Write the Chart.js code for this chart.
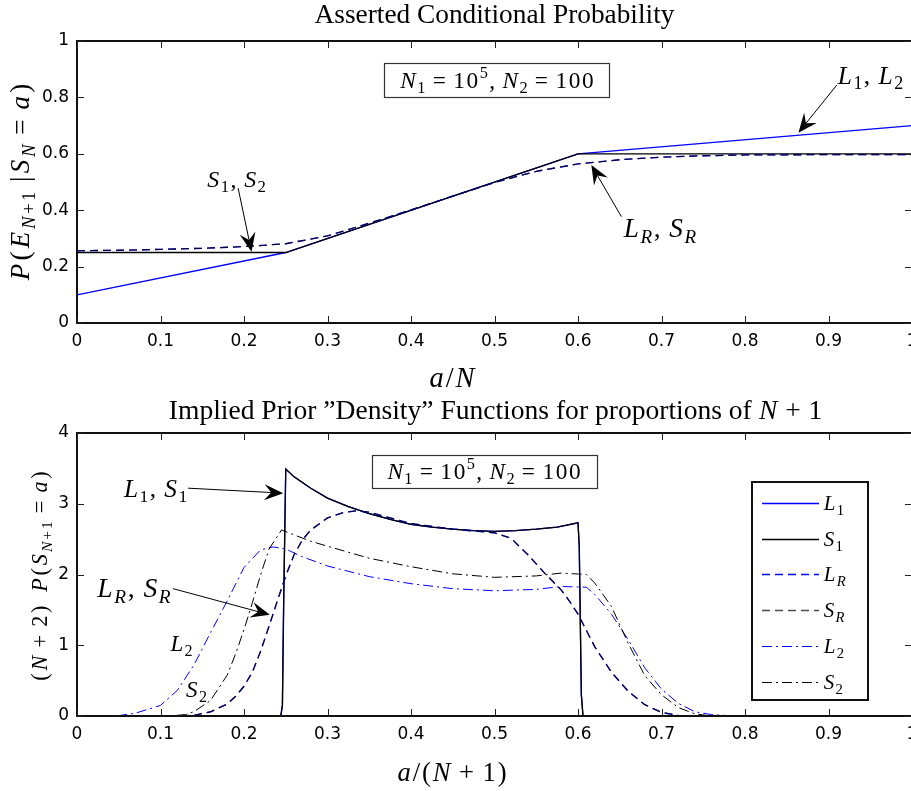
<!DOCTYPE html>
<html><head><meta charset="utf-8">
<script src="https://cdn.jsdelivr.net/npm/chart.js@4.4.1/dist/chart.umd.min.js"></script>
<style>
html,body{margin:0;padding:0;background:#fff;overflow:hidden;width:911px;height:791px}
#wrap{position:relative;width:911px;height:791px;overflow:hidden;background:#fff}
canvas{position:absolute;left:0}
</style></head><body>
<div id="wrap">
<canvas id="c1" width="930" height="395" style="top:0"></canvas>
<canvas id="c2" width="930" height="396" style="top:395px"></canvas>
</div>
<script>
// ---------- tick labels ----------
const xTickLabels = ['0','0.1','0.2','0.3','0.4','0.5','0.6','0.7','0.8','0.9','1'];
const topYTickLabels = ['0','0.2','0.4','0.6','0.8','1'];
const botYTickLabels = ['0','1','2','3','4'];

// ---------- top panel: asserted conditional probability ----------
const topX_L = [0, 0.25, 0.6, 1];
const topL = [0.1, 0.25, 0.6, 0.7];            // L1, L2
const topX_S = [0, 0.25, 0.6, 1];
const topS = [0.25, 0.25, 0.6, 0.6];           // S1, S2
const topX_R = [0, 0.05, 0.1, 0.15, 0.2, 0.25, 0.3, 0.35, 0.4, 0.45, 0.5, 0.55, 0.6, 0.65, 0.7, 0.75, 0.8, 0.9, 1];
const topR = [0.256, 0.258, 0.261, 0.265, 0.271, 0.281, 0.309, 0.354, 0.401, 0.45, 0.498, 0.538, 0.564, 0.579, 0.588, 0.593, 0.596, 0.597, 0.597]; // LR, SR

// ---------- bottom panel: implied prior densities ----------
const densX1 = [0, 0.244, 0.246, 0.2475, 0.25, 0.26, 0.28, 0.3, 0.325, 0.35, 0.375, 0.4, 0.425, 0.45, 0.475, 0.5, 0.525, 0.55, 0.575, 0.6, 0.6015, 0.604, 0.606, 1];
const dens1 = [0, 0, 0.15, 1.6, 3.49, 3.38, 3.22, 3.08, 2.96, 2.86, 2.78, 2.71, 2.67, 2.64, 2.62, 2.61, 2.62, 2.64, 2.67, 2.73, 2.4, 0.3, 0, 0]; // L1, S1
const densXR = [0, 0.12, 0.14, 0.16, 0.18, 0.19, 0.2, 0.21, 0.22, 0.23, 0.24, 0.25, 0.26, 0.27, 0.28, 0.3, 0.32, 0.335, 0.35, 0.375, 0.4, 0.45, 0.5, 0.52, 0.54, 0.56, 0.58, 0.59, 0.6, 0.62, 0.64, 0.66, 0.68, 0.7, 0.72, 0.74, 1];
const densR = [0, 0, 0.01, 0.06, 0.17, 0.28, 0.42, 0.62, 0.92, 1.27, 1.63, 1.98, 2.28, 2.49, 2.63, 2.80, 2.88, 2.90, 2.88, 2.80, 2.72, 2.64, 2.59, 2.51, 2.28, 2.02, 1.78, 1.62, 1.44, 0.98, 0.62, 0.35, 0.16, 0.05, 0.01, 0, 0]; // LR, SR
const densX2L = [0, 0.05, 0.07, 0.1, 0.12, 0.14, 0.16, 0.18, 0.2, 0.22, 0.235, 0.25, 0.27, 0.3, 0.35, 0.4, 0.45, 0.5, 0.55, 0.58, 0.61, 0.62, 0.64, 0.66, 0.68, 0.7, 0.72, 0.74, 0.76, 0.78, 0.8, 1];
const densL2 = [0, 0.005, 0.04, 0.15, 0.36, 0.72, 1.18, 1.63, 2.10, 2.35, 2.39, 2.36, 2.25, 2.12, 1.97, 1.87, 1.80, 1.77, 1.79, 1.83, 1.82, 1.72, 1.44, 1.08, 0.68, 0.38, 0.18, 0.06, 0.02, 0.005, 0, 0];
const densX2S = [0, 0.11, 0.13, 0.14, 0.16, 0.18, 0.19, 0.2, 0.21, 0.22, 0.23, 0.245, 0.26, 0.28, 0.3, 0.35, 0.4, 0.45, 0.5, 0.55, 0.58, 0.61, 0.62, 0.64, 0.66, 0.68, 0.7, 0.72, 0.74, 0.76, 1];
const densS2 = [0, 0, 0.02, 0.06, 0.22, 0.58, 0.88, 1.22, 1.60, 2.00, 2.36, 2.63, 2.56, 2.47, 2.40, 2.23, 2.11, 2.01, 1.96, 1.98, 2.02, 2.00, 1.88, 1.55, 1.03, 0.57, 0.30, 0.12, 0.03, 0, 0];

const BLUE = '#0000ff';
const DASH = [8, 5];
const DASHDOT = [10, 4, 2, 4];

function zip(xs, ys){ return xs.map((x, i) => ({x: x, y: ys[i]})); }

// ---------- tiny TeX-like text renderer ----------
const SERIF = '"Liberation Serif", "Times New Roman", serif';
function parseTex(str, lvl, roman){
  lvl = lvl || 0; const out = []; let i = 0;
  const grp = () => {
    if (str[i] === '{'){ let d = 1, j = i + 1; while (j < str.length && d){ if (str[j] === '{') d++; else if (str[j] === '}') d--; j++; } const g = str.slice(i + 1, j - 1); i = j; return g; }
    return str[i++];
  };
  while (i < str.length){
    const c = str[i];
    if (c === '_' || c === '^'){ i++; const g = grp(); out.push(...parseTex(g, c === '_' ? -1 : 1, roman)); }
    else if (str.startsWith('\\rm', i)){ i += 3; const g = grp(); out.push(...parseTex(g, lvl, true)); }
    else { i++; out.push({t: c, it: !roman && /[A-Za-z]/.test(c), lvl: lvl, math: !roman}); }
  }
  return out;
}
function texLayout(ctx, segs, size, track){
  let x = 0; const items = [];
  for (const s of segs){
    const fs = s.lvl ? size * 0.7 : size;
    const font = (s.it ? 'italic ' : '') + fs.toFixed(2) + 'px ' + SERIF;
    ctx.font = font;
    const extra = (s.math && s.t !== ' ') ? track * fs : 0;
    const w = ctx.measureText(s.t).width;
    items.push({t: s.t, font: font, x: x + extra / 2, dy: s.lvl < 0 ? size * 0.22 : (s.lvl > 0 ? -size * 0.42 : 0)});
    x += w + extra;
  }
  return {items: items, width: x};
}
function drawTex(ctx, str, x, y, o){
  o = o || {};
  const segs = parseTex(str);
  const track = o.track == null ? 0.07 : o.track;
  let size = o.size || 20;
  if (o.width){ const l = texLayout(ctx, segs, 100, track); size = 100 * o.width / l.width; }
  const L = texLayout(ctx, segs, size, track);
  ctx.save();
  ctx.translate(x, y);
  if (o.rot) ctx.rotate(o.rot);
  const x0 = o.align === 'left' ? 0 : (o.align === 'right' ? -L.width : -L.width / 2);
  ctx.fillStyle = o.color || '#000';
  ctx.textBaseline = 'alphabetic'; ctx.textAlign = 'left';
  const base = size * 0.33;
  for (const it of L.items){ ctx.font = it.font; ctx.fillText(it.t, x0 + it.x, base + it.dy); }
  ctx.restore();
}
function arrow(ctx, x1, y1, x2, y2){
  const a = Math.atan2(y2 - y1, x2 - x1), L = 19, W = 8, B = 12;
  ctx.save();
  ctx.strokeStyle = '#000'; ctx.lineWidth = 1; ctx.setLineDash([]);
  ctx.beginPath(); ctx.moveTo(x1, y1); ctx.lineTo(x2 - Math.cos(a) * B, y2 - Math.sin(a) * B); ctx.stroke();
  ctx.translate(x2, y2); ctx.rotate(a);
  ctx.beginPath(); ctx.moveTo(0, 0); ctx.lineTo(-L, -W); ctx.lineTo(-B, 0); ctx.lineTo(-L, W); ctx.closePath();
  ctx.fillStyle = '#000'; ctx.fill();
  ctx.restore();
}

// ---------- decoration plugin (frame, inward ticks, titles, annotations, legend) ----------
const deco = {
  id: 'deco',
  afterDraw(chart, args, opt){
    const ctx = chart.ctx, ca = chart.chartArea, sx = chart.scales.x, sy = chart.scales.y;
    ctx.save();
    // frame
    ctx.strokeStyle = '#111'; ctx.lineWidth = 2; ctx.setLineDash([]);
    ctx.strokeRect(ca.left, ca.top, ca.right - ca.left, ca.bottom - ca.top);
    // inward ticks
    ctx.lineWidth = 1; ctx.strokeStyle = '#222';
    const tl = 7;
    ctx.beginPath();
    sx.ticks.forEach(t => { const p = Math.round(sx.getPixelForValue(t.value)) + 0.5;
      ctx.moveTo(p, ca.bottom); ctx.lineTo(p, ca.bottom - tl); ctx.moveTo(p, ca.top); ctx.lineTo(p, ca.top + tl); });
    sy.ticks.forEach(t => { const p = Math.round(sy.getPixelForValue(t.value)) + 0.5;
      ctx.moveTo(ca.left, p); ctx.lineTo(ca.left + tl, p); ctx.moveTo(ca.right, p); ctx.lineTo(ca.right - tl, p); });
    ctx.stroke();
    // titles
    drawTex(ctx, opt.title.text, opt.title.cx, opt.title.cy, {width: opt.title.width, track: 0.03});
    drawTex(ctx, opt.xTitle.text, opt.xTitle.cx, opt.xTitle.cy, {width: opt.xTitle.width});
    drawTex(ctx, opt.yTitle.text, opt.yTitle.cx, opt.yTitle.cy, {width: opt.yTitle.width, rot: -Math.PI / 2, track: 0.12});
    // annotation boxes
    (opt.boxes || []).forEach(b => {
      const x0 = sx.getPixelForValue(b.x0), x1 = sx.getPixelForValue(b.x1);
      const y0 = sy.getPixelForValue(b.y0), y1 = sy.getPixelForValue(b.y1);
      ctx.fillStyle = '#fff'; ctx.fillRect(x0, y0, x1 - x0, y1 - y0);
      ctx.strokeStyle = '#333'; ctx.lineWidth = 1.2; ctx.strokeRect(Math.round(x0) + 0.5, Math.round(y0) + 0.5, Math.round(x1 - x0), Math.round(y1 - y0));
      drawTex(ctx, b.text, (x0 + x1) / 2, (y0 + y1) / 2, {width: b.width});
    });
    (opt.arrows || []).forEach(a => arrow(ctx, sx.getPixelForValue(a.x1), sy.getPixelForValue(a.y1), sx.getPixelForValue(a.x2), sy.getPixelForValue(a.y2)));
    (opt.labels || []).forEach(l => drawTex(ctx, l.text, sx.getPixelForValue(l.x), sy.getPixelForValue(l.y), l.size ? {size: l.size} : {width: l.width}));
    // legend
    if (opt.legend){
      const lg = opt.legend;
      ctx.fillStyle = '#fff'; ctx.fillRect(lg.x0, lg.y0, lg.x1 - lg.x0, lg.y1 - lg.y0);
      ctx.strokeStyle = '#111'; ctx.lineWidth = 2; ctx.strokeRect(lg.x0, lg.y0, lg.x1 - lg.x0, lg.y1 - lg.y0);
      const dsets = chart.data.datasets;
      lg.order.forEach((di, k) => {
        const ds = dsets[di]; const yy = Math.round(lg.firstY + k * lg.step) + 0.5;
        ctx.save(); ctx.strokeStyle = ds.borderColor; ctx.lineWidth = ds.borderWidth; ctx.setLineDash(ds.borderDash || []);
        ctx.beginPath(); ctx.moveTo(lg.sx0, yy); ctx.lineTo(lg.sx1, yy); ctx.stroke(); ctx.restore();
        drawTex(ctx, ds.label, lg.tx, yy, {size: lg.size, align: 'left'});
      });
    }
    ctx.restore();
  }
};

function lineDs(label, data, color, dash, order, width){
  return {label: label, data: data, borderColor: color, borderDash: dash || [], borderWidth: width || 1.2,
          pointRadius: 0, tension: 0, fill: false, order: order, spanGaps: true};
}

const TICKFONT = {family: 'DejaVu Sans', size: 17};
function baseOptions(yMax, yStep, yLabels, padTop, xHeight, decoOpts){
  return {
    responsive: false, animation: false, events: [], devicePixelRatio: 1,
    layout: {padding: {left: 0, top: padTop, right: 18, bottom: 0}},
    plugins: {legend: {display: false}, tooltip: {enabled: false}, title: {display: false}, deco: decoOpts},
    scales: {
      x: {type: 'linear', min: 0, max: 1,
          grid: {display: false, drawTicks: false}, border: {display: false},
          ticks: {stepSize: 0.1, autoSkip: false, maxRotation: 0, padding: 8, color: '#000', font: TICKFONT,
                  callback: (v, i) => xTickLabels[i]},
          afterFit: s => { s.height = xHeight; }},
      y: {type: 'linear', min: 0, max: yMax,
          grid: {display: false, drawTicks: false}, border: {display: false},
          ticks: {stepSize: yStep, autoSkip: false, padding: 8, color: '#000', font: TICKFONT,
                  callback: (v, i) => yLabels[i]},
          afterFit: s => { s.width = 77; }}
    }
  };
}

// ---------- top chart ----------
new Chart(document.getElementById('c1'), {
  type: 'line',
  plugins: [deco],
  data: {datasets: [
    lineDs('L_1, L_2', zip(topX_L, topL), BLUE, [], 3, 1.3),
    lineDs('S_1, S_2', zip(topX_S, topS), '#000', [], 2, 1.3),
    lineDs('L_R', zip(topX_R, topR), BLUE, DASH, 1, 1.3),
    lineDs('S_R', zip(topX_R, topR), 'rgba(0,0,0,0.7)', DASH, 0, 1.3)
  ]},
  options: baseOptions(1, 0.2, topYTickLabels, 41, 72, {
    title: {text: '\\rm{Asserted Conditional Probability}', cx: 494.5, cy: 14, width: 360},
    xTitle: {text: 'a/N', cx: 452, cy: 378, width: 47},
    yTitle: {text: 'P(E_{N+1} |S_N = a)', cx: 20, cy: 182, width: 200},
    boxes: [{x0: 0.368, x1: 0.638, y0: 0.922, y1: 0.802, text: 'N_1 = 10^5, N_2 = 100', width: 195}],
    arrows: [{x1: 0.91, y1: 0.844, x2: 0.864, y2: 0.675},
             {x1: 0.652, y1: 0.377, x2: 0.616, y2: 0.56},
             {x1: 0.193, y1: 0.478, x2: 0.209, y2: 0.253}],
    labels: [{x: 0.95, y: 0.879, text: 'L_1, L_2', width: 67},
             {x: 0.698, y: 0.337, text: 'L_R, S_R', width: 74},
             {x: 0.191, y: 0.511, text: 'S_1, S_2', width: 60}]
  })
});

// ---------- bottom chart ----------
new Chart(document.getElementById('c2'), {
  type: 'line',
  plugins: [deco],
  data: {datasets: [
    lineDs('L_1', zip(densX1, dens1), BLUE, [], 5, 1.3),
    lineDs('S_1', zip(densX1, dens1), '#000', [], 4, 1.3),
    lineDs('L_R', zip(densXR, densR), BLUE, DASH, 1, 1.3),
    lineDs('S_R', zip(densXR, densR), 'rgba(0,0,0,0.7)', DASH, 0, 1.3),
    lineDs('L_2', zip(densX2L, densL2), BLUE, DASHDOT, 3, 1),
    lineDs('S_2', zip(densX2S, densS2), '#000', DASHDOT, 2, 1)
  ]},
  options: baseOptions(4, 1, botYTickLabels, 38, 75, {
    title: {text: '\\rm{Implied Prior ”Density” Functions for proportions of }N + 1', cx: 495.7, cy: 15, width: 654},
    xTitle: {text: 'a/(N + 1)', cx: 452, cy: 377, width: 111},
    yTitle: {text: '(N + 2)  P(S_{N+1} = a)', cx: 40, cy: 181, width: 212},
    boxes: [{x0: 0.353, x1: 0.622, y0: 3.69, y1: 3.22, text: 'N_1 = 10^5, N_2 = 100', width: 195}],
    arrows: [{x1: 0.133, y1: 3.22, x2: 0.247, y2: 3.15},
             {x1: 0.115, y1: 1.80, x2: 0.231, y2: 1.43}],
    labels: [{x: 0.094, y: 3.22, text: 'L_1, S_1', width: 65},
             {x: 0.068, y: 1.81, text: 'L_R, S_R', width: 75},
             {x: 0.125, y: 1.02, text: 'L_2', size: 23},
             {x: 0.143, y: 0.38, text: 'S_2', size: 23}],
    legend: {x0: 752, y0: 87, x1: 868, y1: 305, sx0: 762, sx1: 819, tx: 823, firstY: 107.7, step: 35.8, size: 21,
             order: [0, 1, 2, 3, 4, 5]}
  })
});
</script>
</body></html>
